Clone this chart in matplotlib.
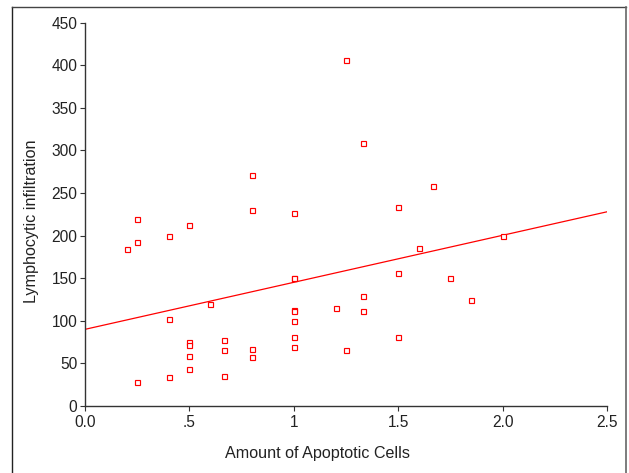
import numpy as np
import matplotlib
matplotlib.use("Agg")
import matplotlib.pyplot as plt
from matplotlib.lines import Line2D

# amount of apoptotic cells vs lymphocytic infiltration
apoptotic = [0.2, 0.25, 0.25, 0.25, 0.4, 0.4, 0.4, 0.5, 0.5, 0.5, 0.5, 0.5,
             0.6, 0.667, 0.667, 0.667, 0.8, 0.8, 0.8, 0.8,
             1.0, 1.0, 1.0, 1.0, 1.0, 1.0, 1.0, 1.0,
             1.2, 1.25, 1.25, 1.333, 1.333, 1.333,
             1.5, 1.5, 1.5, 1.6, 1.667, 1.75, 1.85, 2.0]
lymph = [184, 192, 219, 28, 200, 102, 34, 213, 75, 72, 59, 44,
         120, 78, 66, 35, 271, 230, 67, 57,
         226, 150, 113, 112, 100, 81, 69, 150,
         115, 406, 66, 309, 129, 112,
         234, 156, 81, 185, 258, 150, 125, 200]

# fitted line shown in the chart
fit_intercept = 90.0
fit_slope = 55.2
fit_x = [0.0, 2.5]

xticks = [0, 0.5, 1, 1.5, 2.0, 2.5]
xticklabels = ["0.0", ".5", "1", "1.5", "2.0", "2.5"]
yticks = list(range(0, 451, 50))

plt.rcParams['font.family'] = ['Liberation Sans', 'DejaVu Sans']

fig = plt.figure(figsize=(6.29, 4.73), dpi=100)
ax = fig.add_axes([85/629, 1-406/473, (607-85)/629, (406-22.7)/473])

red = "#ff0000"
fx = np.array(fit_x)
ax.plot(fx, fit_intercept + fit_slope*fx, color=red, lw=0.9)
ax.plot(apoptotic, lymph, linestyle="none", marker="s", markersize=3.6,
        markerfacecolor="white", markeredgecolor=red, markeredgewidth=0.85)

ax.set_xlim(0, 2.5)
ax.set_ylim(0, 450)
ax.set_xticks(xticks)
ax.set_xticklabels(xticklabels)
ax.set_yticks(yticks)

dark = "#333333"
for s in ["top", "right"]:
    ax.spines[s].set_visible(False)
for s in ["left", "bottom"]:
    ax.spines[s].set_color(dark)
    ax.spines[s].set_linewidth(1.0)
ax.tick_params(direction="out", length=3.5, width=0.8, color=dark,
               labelcolor="#222222", labelsize=11.2, pad=2)
ax.tick_params(axis="x", pad=3)

ax.set_xlabel("Amount of Apoptotic Cells", fontsize=11.6, color="#222222")
ax.set_ylabel("Lymphocytic infiltration", fontsize=11.6, color="#222222")
ax.xaxis.set_label_coords(0.446, -0.104)
ax.yaxis.set_label_coords(-0.089, 0.483)

# outer frame around the figure
fig.add_artist(Line2D([12/629, 12/629], [-0.01, 1-7/473], color="#222222", lw=1.0))
fig.add_artist(Line2D([12/629, 626/629], [1-7/473, 1-7/473], color="#444444", lw=1.0))
fig.add_artist(Line2D([626/629, 626/629], [-0.01, 1-7/473], color="#666666", lw=1.2))

fig.savefig("out.png", dpi=100)
